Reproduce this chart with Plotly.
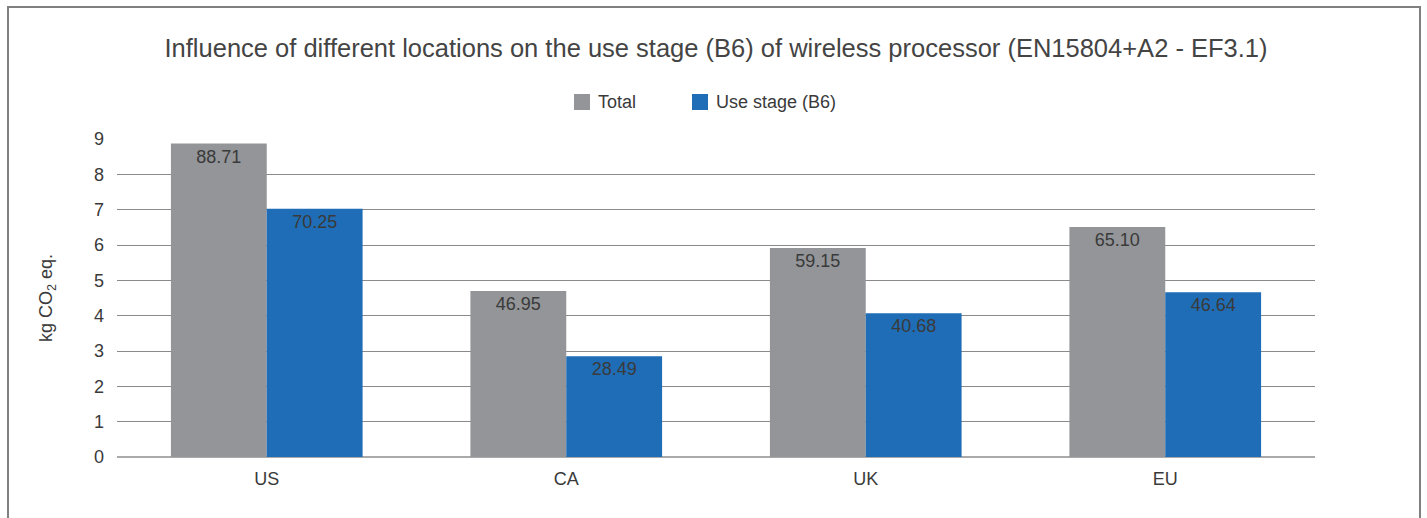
import plotly.graph_objects as go

categories = ["US", "CA", "UK", "EU"]
total_vals = [88.71, 46.95, 59.15, 65.10]
use_vals = [70.25, 28.49, 40.68, 46.64]
series_names = ["Total", "Use stage (B6)"]
series_colors = ["#939598", "#1F6DB6"]
scale = 10  # bars drawn on a 0-9 axis (value / 10)

W, H = 1427, 518
L, R, T, B = 117, 1315, 139, 457
FONT = "Liberation Sans, Arial, Helvetica"
TXT = "#3a3a3a"

fig = go.Figure()
for name, vals, col in zip(series_names, [total_vals, use_vals], series_colors):
    fig.add_trace(go.Bar(
        x=categories, y=[v / scale for v in vals], name=name,
        marker=dict(color=col, line=dict(width=0)),
        text=[f"{v:.2f}" for v in vals], textposition="inside",
        insidetextanchor="end", textangle=0, constraintext="none",
        insidetextfont=dict(color=TXT, size=18, family=FONT),
        hoverinfo="skip", showlegend=False,
    ))

def px_x(p):
    return (p - L) / (R - L)

def px_y(p):
    return (B - p) / (B - T)

shapes = [dict(type="rect", xref="paper", yref="paper",
               x0=px_x(8), x1=px_x(1420), y0=px_y(540), y1=px_y(7),
               line=dict(color="#808080", width=2), fillcolor="rgba(0,0,0,0)", layer="below")]
annotations = []
legend_x = [574, 692]
for lx, name, col in zip(legend_x, series_names, series_colors):
    shapes.append(dict(type="rect", xref="paper", yref="paper",
                       x0=px_x(lx), x1=px_x(lx + 16), y0=px_y(110), y1=px_y(94),
                       line=dict(width=0), fillcolor=col))
    annotations.append(dict(text=name, xref="paper", yref="paper", x=px_x(lx + 22), y=px_y(102),
                            xanchor="left", yanchor="middle", showarrow=False,
                            font=dict(size=18, color=TXT, family=FONT)))

fig.update_layout(
    width=W, height=H,
    margin=dict(l=L, r=W - R, t=T, b=H - B),
    paper_bgcolor="white", plot_bgcolor="white",
    barmode="group", bargap=0.36, bargroupgap=0,
    font=dict(family=FONT, color=TXT, size=18),
    title=dict(text="Influence of different locations on the use stage (B6) of wireless processor (EN15804+A2 - EF3.1)",
               x=0.5, xref="paper", xanchor="center", y=1 - 48 / H, yanchor="middle",
               font=dict(size=25.5, color="#444444")),
    showlegend=False,
    xaxis=dict(showgrid=False, showline=False, ticks="", tickfont=dict(size=18, color=TXT),
               ticklabelstandoff=9),
    yaxis=dict(range=[0, 9], dtick=1, showgrid=True, gridcolor="#8a8a8a", gridwidth=1,
               zeroline=True, zerolinecolor="#aaaaaa", zerolinewidth=2,
               tickfont=dict(size=18, color=TXT), ticklabelstandoff=12,
               title=dict(text="kg CO<sub>2</sub> eq.", font=dict(size=18, color=TXT), standoff=36)),
    shapes=shapes,
    annotations=annotations,
)

fig.write_html("out.html")
